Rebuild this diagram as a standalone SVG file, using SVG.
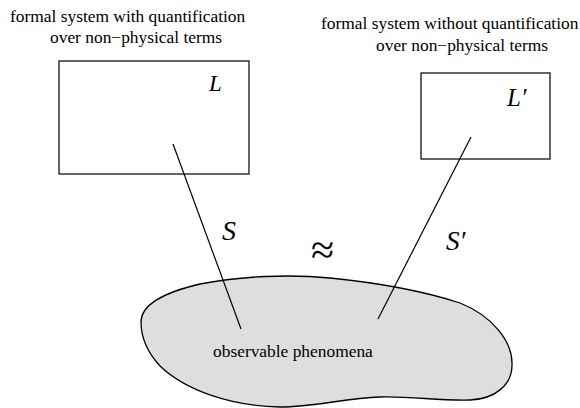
<svg xmlns="http://www.w3.org/2000/svg" width="580" height="408" viewBox="0 0 580 408">
<style>
.t{font-family:"Liberation Serif","Times New Roman",serif;font-size:17.4px;fill:#000}
.m{font-family:"Liberation Serif","Times New Roman",serif;font-style:italic;fill:#000}
.box{fill:#fff;stroke:#000;stroke-width:1.2}
.ln{stroke:#000;stroke-width:1.2;fill:none}
</style>
<rect width="580" height="408" fill="#fff"/>
<g id="phenomena">
<path d="M 141,322 C 141,303 170,291 200,284 C 240,276 290,274 330,278 C 370,282 420,290 460,303 C 490,315 513,340 512,365 C 512,385 495,399 470,400 C 440,401 410,396 380,397 C 345,398 315,407 280,407 C 230,406 185,390 160,366 C 148,353 141,338 141,322 Z" fill="#dedede" stroke="#000" stroke-width="1.3"/>
<text class="t" x="213" y="357">observable phenomena</text>
</g>
<g id="L">
<text class="t" x="10" y="22">formal system with quantification</text>
<text class="t" x="50" y="43">over non−physical terms</text>
<rect class="box" x="59" y="61" width="190" height="113"/>
<text class="m" x="209" y="91" font-size="23">L</text>
</g>
<g id="Lprime">
<text class="t" x="321" y="29">formal system without quantification</text>
<text class="t" x="376" y="51">over non−physical terms</text>
<rect class="box" x="421" y="73" width="129" height="86"/>
<text class="m" x="507" y="106" font-size="25">L′</text>
</g>
<g id="connectors">
<line class="ln" x1="173" y1="144" x2="241" y2="329"/>
<line class="ln" x1="471" y1="137" x2="378" y2="319"/>
<text class="m" x="222" y="240" font-size="28">S</text>
<text class="m" x="446" y="250" font-size="27">S′</text>
<text class="t" x="311" y="264" style="font-size:42px">≈</text>
</g>
</svg>
